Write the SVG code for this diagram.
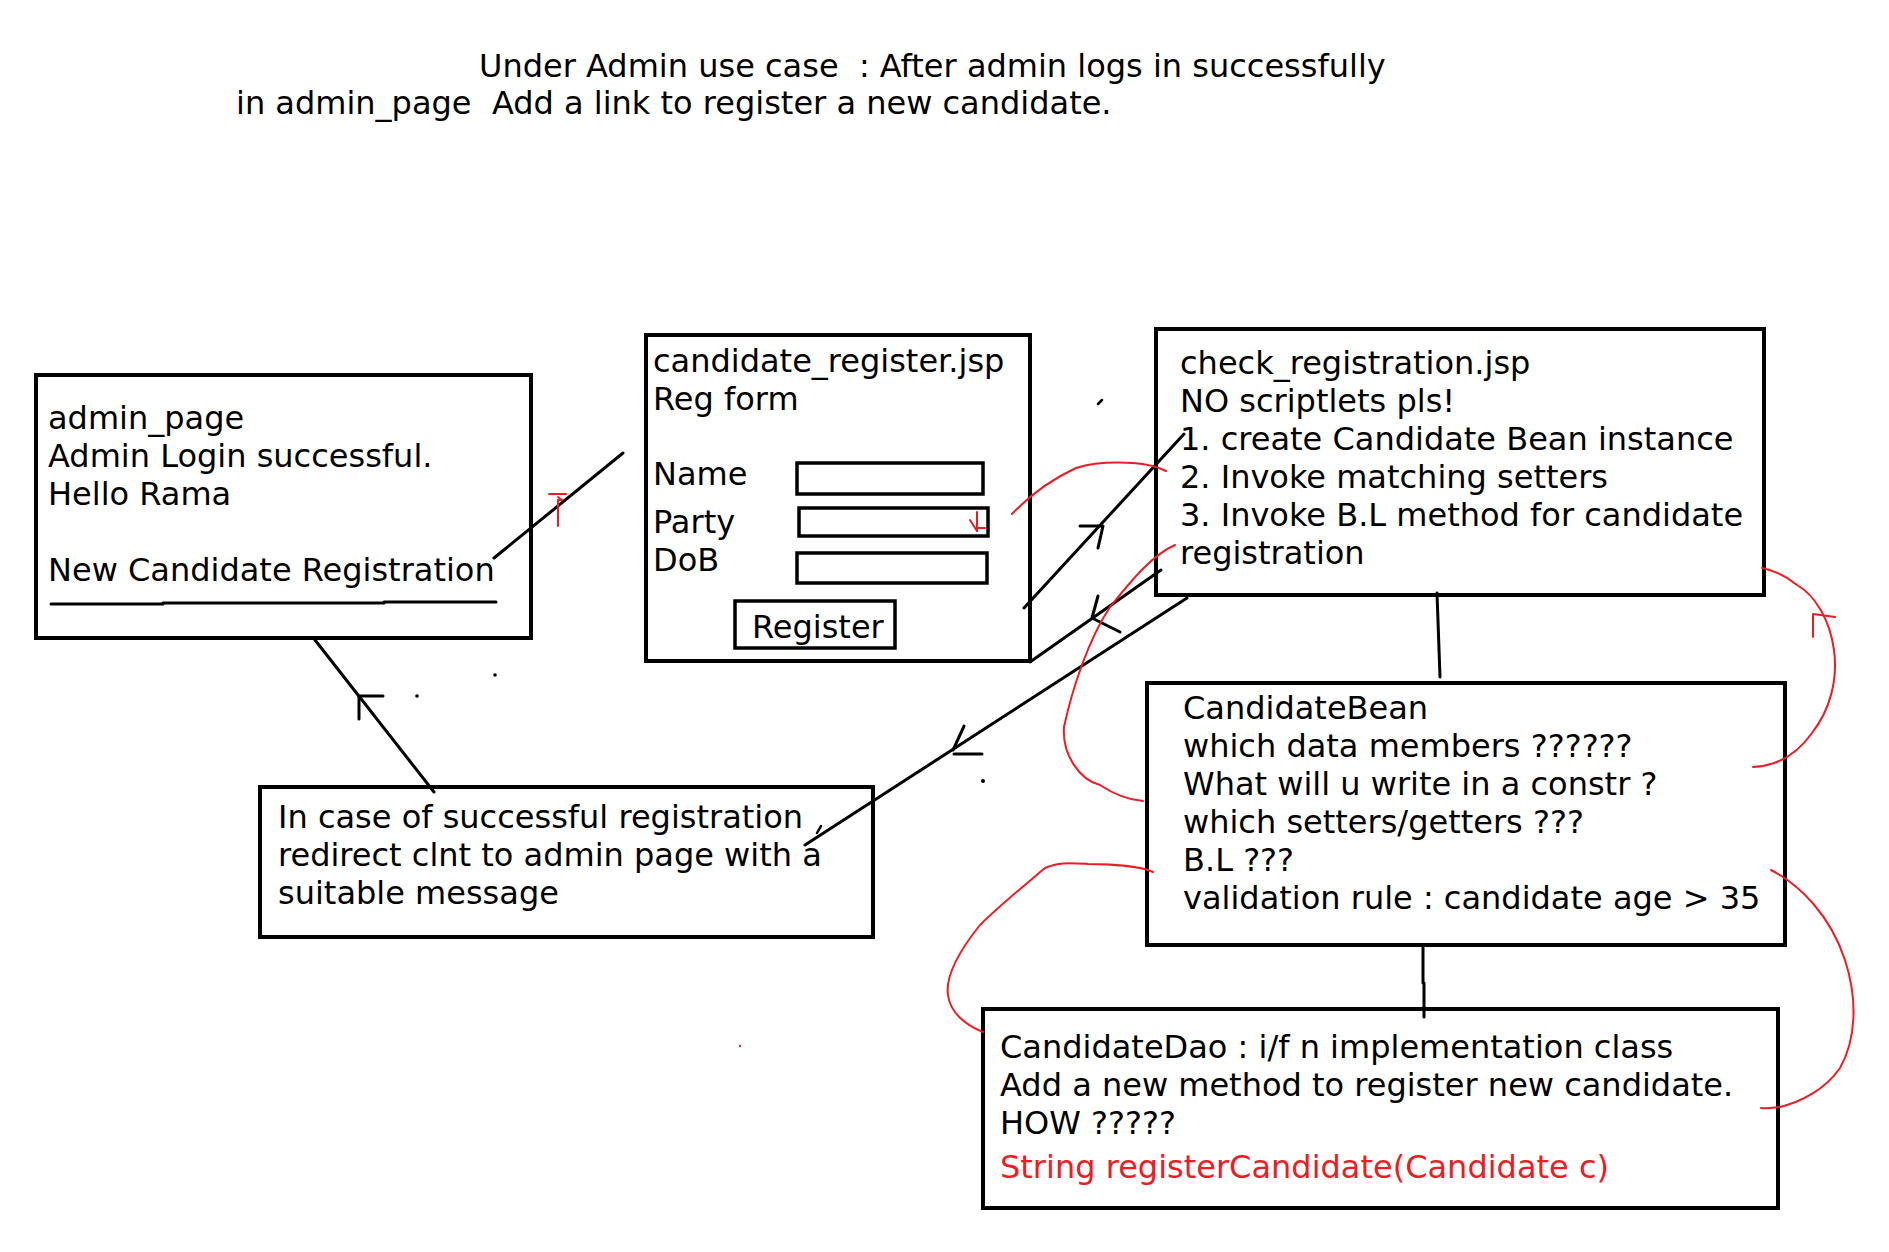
<svg xmlns="http://www.w3.org/2000/svg" width="1889" height="1252" viewBox="0 0 1889 1252">
<style>
  text { font-family: "DejaVu Sans", Verdana, sans-serif; font-size: 32px; fill: #000; white-space: pre; }
  .red { fill: #ED1C24; }
  .box { fill: none; stroke: #000; stroke-width: 4; }
  .field { fill: none; stroke: #000; stroke-width: 3.5; }
  .conn { fill: none; stroke: #000; stroke-width: 3; stroke-linecap: round; stroke-linejoin: round; }
  .thin { fill: none; stroke: #000; stroke-width: 2.5; stroke-linecap: round; }
  .ink { fill: none; stroke: #ED1C24; stroke-width: 2; stroke-linecap: round; stroke-linejoin: round; }
  .dot { fill: #000; }
</style>
<rect width="1889" height="1252" fill="#fff"/>

<g id="title">
  <text x="479" y="77" xml:space="preserve">Under Admin use case  : After admin logs in successfully</text>
  <text x="236" y="114" xml:space="preserve">in admin_page  Add a link to register a new candidate.</text>
</g>

<g id="admin_page">
  <rect class="box" x="36" y="375" width="495" height="263"/>
  <text x="48" y="429">admin_page</text>
  <text x="48" y="467">Admin Login successful.</text>
  <text x="48" y="505">Hello Rama</text>
  <text x="48" y="581">New Candidate Registration</text>
  <polyline class="conn" points="51,604 163,604 163,603 384,603 384,602 496,602"/>
</g>

<g id="candidate_register">
  <rect class="box" x="646" y="335" width="384" height="326"/>
  <text x="653" y="372">candidate_register.jsp</text>
  <text x="653" y="410">Reg form</text>
  <text x="653" y="485">Name</text>
  <text x="653" y="533">Party</text>
  <text x="653" y="571">DoB</text>
  <rect class="field" x="797" y="463" width="186" height="31"/>
  <rect class="field" x="799" y="508" width="189" height="28"/>
  <rect class="field" x="797" y="553" width="190" height="30"/>
  <rect class="field" x="735" y="601" width="160" height="47"/>
  <text x="752" y="638">Register</text>
</g>

<g id="check_registration">
  <rect class="box" x="1156" y="329" width="608" height="266"/>
  <text x="1180" y="374">check_registration.jsp</text>
  <text x="1180" y="412">NO scriptlets pls!</text>
  <text x="1180" y="450">1. create Candidate Bean instance</text>
  <text x="1180" y="488">2. Invoke matching setters</text>
  <text x="1180" y="526">3. Invoke B.L method for candidate</text>
  <text x="1180" y="564">registration</text>
</g>

<g id="candidate_bean">
  <rect class="box" x="1147" y="683" width="638" height="262"/>
  <text x="1183" y="719">CandidateBean</text>
  <text x="1183" y="757">which data members ??????</text>
  <text x="1183" y="795">What will u write in a constr ?</text>
  <text x="1183" y="833">which setters/getters ???</text>
  <text x="1183" y="871">B.L ???</text>
  <text x="1183" y="909">validation rule : candidate age &gt; 35</text>
</g>

<g id="candidate_dao">
  <rect class="box" x="983" y="1009" width="795" height="199"/>
  <text x="1000" y="1058">CandidateDao : i/f n implementation class</text>
  <text x="1000" y="1096">Add a new method to register new candidate.</text>
  <text x="1000" y="1134">HOW ?????</text>
  <text class="red" x="1000" y="1178">String registerCandidate(Candidate c)</text>
</g>

<g id="redirect_note">
  <rect class="box" x="260" y="787" width="613" height="150"/>
  <text x="278" y="828">In case of successful registration</text>
  <text x="278" y="866">redirect clnt to admin page with a</text>
  <text x="278" y="904">suitable message</text>
</g>

<g id="connectors">
  <line class="conn" x1="494" y1="558" x2="623" y2="453"/>
  <line class="conn" x1="1024" y1="608" x2="1184" y2="434"/>
  <polyline class="conn" points="1080,526 1103,526 1098,548"/>
  <line class="conn" x1="1030" y1="662" x2="1161" y2="570"/>
  <polyline class="conn" points="1098,596 1092,618 1120,632"/>
  <line class="conn" x1="1187" y1="598" x2="805" y2="845"/>
  <polyline class="conn" points="964,726 953,750"/>
  <line class="conn" x1="954" y1="754" x2="982" y2="754"/>
  <line class="thin" x1="817" y1="833" x2="821" y2="826"/>
  <line class="conn" x1="434" y1="792" x2="315" y2="640"/>
  <polyline class="conn" points="383,696 359,696 359,719"/>
  <line class="conn" x1="1437" y1="593" x2="1440" y2="677"/>
  <polyline class="conn" points="1423,945 1423,983 1424,983 1424,1017"/>
</g>

<g id="marks">
  <line class="thin" x1="1098" y1="404" x2="1102" y2="400"/>
  <circle class="dot" cx="495" cy="675" r="1.8"/>
  <circle class="dot" cx="417" cy="696" r="1.8"/>
  <circle class="dot" cx="983" cy="781" r="2"/>
  <circle cx="740" cy="1046" r="1.2" fill="#ED1C24"/>
</g>

<g id="annotations">
  <line class="ink" x1="549" y1="494" x2="566" y2="494"/>
  <polyline class="ink" points="558,497 562,500 558,500 558,526"/>
  <line class="ink" x1="977" y1="512" x2="977" y2="531"/>
  <line class="ink" x1="970" y1="520" x2="977" y2="531"/>
  <line class="ink" x1="978" y1="528" x2="985" y2="528"/>
  <path class="ink" d="M1012,514 C1030,495 1050,480 1076,468 C1095,462 1115,462 1133,463 C1148,464 1158,467 1166,471"/>
  <path class="ink" d="M1175,545 C1150,556 1128,585 1110,607 C1088,640 1072,690 1064,727 C1062,755 1080,780 1100,785 C1115,795 1130,800 1143,801"/>
  <path class="ink" d="M1753,767 C1775,766 1795,757 1812,733 C1830,710 1838,680 1834,650 C1830,620 1815,595 1797,585 C1785,575 1772,570 1762,568"/>
  <polyline class="ink" points="1835,617 1813,614 1813,637"/>
  <path class="ink" d="M1153,872 C1140,866 1110,864 1088,864 C1070,863 1058,862 1045,868 C1025,885 1000,905 980,925 C960,950 945,975 948,995 C950,1012 965,1025 983,1032"/>
  <path class="ink" d="M1771,870 C1800,885 1830,915 1845,960 C1858,1000 1856,1040 1840,1068 C1825,1090 1800,1102 1780,1107 C1772,1108 1766,1109 1761,1108"/>
</g>
</svg>
